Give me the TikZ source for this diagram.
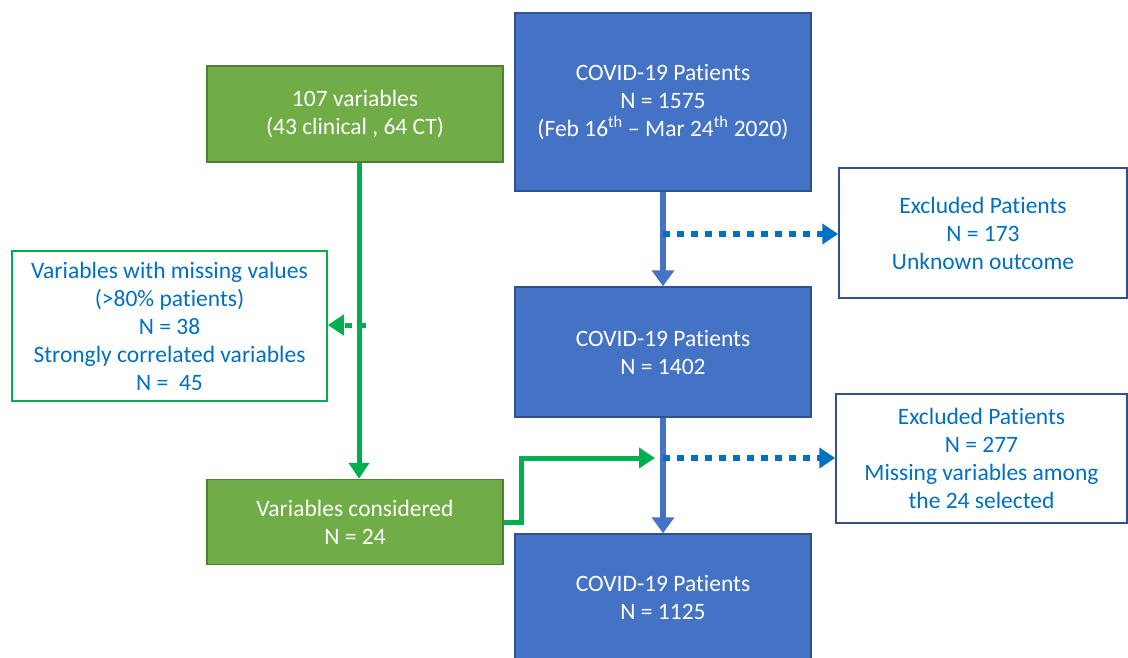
\documentclass[tikz,border=0pt]{standalone}
\usepackage{fontspec}
\setmainfont[RawFeature=-liga]{Carlito}
\usetikzlibrary{arrows.meta,calc}
\definecolor{bfill}{HTML}{4472C4}
\definecolor{bline}{HTML}{2F528F}
\definecolor{gfill}{HTML}{70AD47}
\definecolor{gline}{HTML}{507E32}
\definecolor{brgreen}{HTML}{00B050}
\definecolor{txtblue}{HTML}{0070C0}
\definecolor{arrblue}{HTML}{4472C4}
\begin{document}
\begin{tikzpicture}[x=1pt,y=-1pt,
  every node/.style={font=\fontsize{23.5}{28}\selectfont, align=center, inner sep=0pt},
  bluebox/.style={draw=bline, fill=bfill, line width=1.5pt, text=white, minimum width=296pt},
  greenbox/.style={draw=gline, fill=gfill, line width=1.5pt, text=white, minimum width=296pt},
  outbox/.style={draw=bline, fill=white, line width=1.5pt, text=txtblue},
  goutbox/.style={draw=brgreen, fill=white, line width=1.5pt, text=txtblue},
  bluearr/.style={draw=arrblue, line width=6pt, -{Triangle[length=16pt,width=22pt]}},
  dotarr/.style={draw=txtblue, line width=6pt, dash pattern=on 7pt off 7pt, -{Triangle[length=16pt,width=20pt]}},
  greenarr/.style={draw=brgreen, line width=5pt, -{Triangle[length=16pt,width=20pt]}},
  gdotarr/.style={draw=brgreen, line width=5pt, dash pattern=on 7pt off 7pt, -{Triangle[length=16pt,width=20pt]}}
]
\useasboundingbox (0,0) rectangle (1128,658);
\node[bluebox, minimum height=178pt] (p1) at (663,102) {COVID-19 Patients\\N = 1575\\(Feb 16\textsuperscript{th} -- Mar 24\textsuperscript{th} 2020)};
\node[bluebox, minimum height=130pt] (p2) at (663,352) {COVID-19 Patients\\N = 1402};
\node[bluebox, minimum height=126pt] (p3) at (663,597) {COVID-19 Patients\\N = 1125};
\node[greenbox, minimum height=96pt] (v1) at (355,114) {107 variables\\(43 clinical , 64 CT)};
\node[greenbox, minimum height=85pt] (v2) at (355,522) {Variables considered\\N = 24};
\node[goutbox, minimum width=315pt, minimum height=150pt] (m) at (169.5,326) {Variables with missing values\\(>80\% patients)\\N = 38\\Strongly correlated variables\\N =\ \ 45};
\node[outbox, minimum width=288pt, minimum height=130pt] (e1) at (983,233) {Excluded Patients\\N = 173\\Unknown outcome};
\node[outbox, minimum width=291pt, minimum height=129pt] (e2) at (981.5,458.5) {Excluded Patients\\N = 277\\Missing variables among\\the 24 selected};
\coordinate (j1) at (663,234);
\coordinate (j2) at (663,458);
\coordinate (gj) at (366,325);
\coordinate (gk) at (655,458);
\draw[bluearr] (p1.south) -- (p2.north);
\draw[bluearr] (p2.south) -- (p3.north);
\draw[dotarr] (j1) -- (j1 -| e1.west);
\draw[dotarr] (j2) -- (j2 -| e2.west);
\draw[greenarr] (v1.south -| 359,0) -- (v2.north -| 359,0);
\draw[gdotarr] (gj) -- (gj -| m.east);
\draw[greenarr] (v2.east) -- (521,522) -- (521,458) -- (gk);
\end{tikzpicture}
\end{document}
